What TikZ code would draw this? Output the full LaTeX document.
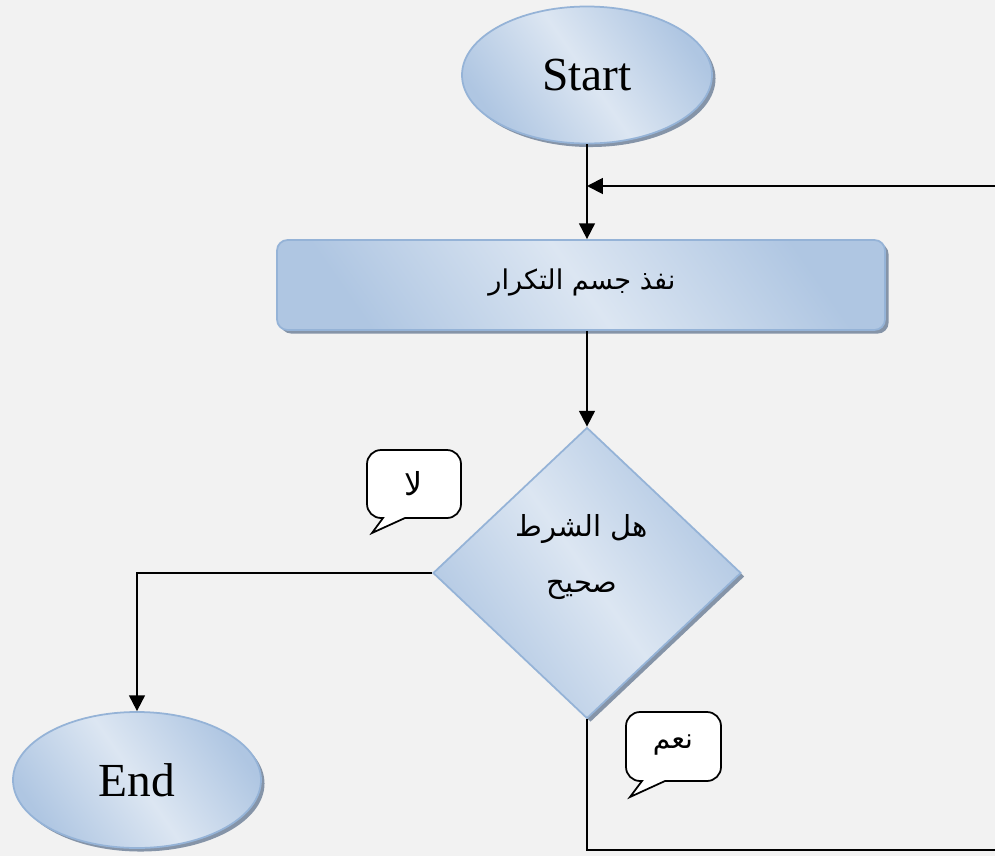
\documentclass[tikz,border=0pt]{standalone}
\usepackage{fontspec}
\usepackage{tikz}
\usetikzlibrary{arrows.meta,shapes.geometric,shadows,calc}
\TeXXeTstate=1
\newfontfamily\arabicfont[Script=Arabic]{DejaVu Sans}
\newfontfamily\latinfont{Liberation Serif}
\definecolor{pagegrey}{HTML}{F2F2F2}
\definecolor{boxedge}{HTML}{95B3D7}
\definecolor{boxlight}{HTML}{DCE6F2}
\definecolor{boxdark}{HTML}{AFC6E2}
\definecolor{shadowgrey}{HTML}{8594A8}

\begin{document}
\begin{tikzpicture}[x=0.02cm, y=-0.02cm,
		blueshape/.style={draw=boxedge, line width=1pt, left color=boxdark, right color=boxdark, middle color=boxlight, shading angle=125,
			drop shadow={shadow xshift=2pt, shadow yshift=-2pt, fill=shadowgrey, opacity=1}},
		terminal/.style={blueshape, ellipse, inner sep=0pt, font=\latinfont\fontsize{27}{30}\selectfont},
		process/.style={blueshape, rectangle, rounded corners=6pt, inner sep=0pt},
		decision/.style={blueshape, diamond, inner sep=0pt},
		flow/.style={line width=1.1pt, -{Triangle[length=9pt, width=9pt]}},
		bubble/.style={draw=black, line width=1pt, fill=white}]
			%%%%% START %%%%%
			
			\useasboundingbox[fill=pagegrey] (0, 0) rectangle (995, 856);
			
			\node[terminal, minimum width=250*0.02cm, minimum height=137*0.02cm] (start) at (587, 75) {Start};
			\node[process, minimum width=608*0.02cm, minimum height=90*0.02cm] (body) at (581, 285) {};
			\node[font=\arabicfont\fontsize{15.5}{18}\selectfont] (bodytext) at (582, 282) {\beginR نفذ جسم التكرار\endR};
			
			\node[decision, minimum width=308*0.02cm, minimum height=291*0.02cm] (cond) at (587, 573) {};
			\node[font=\arabicfont\fontsize{16.5}{32}\selectfont, align=center] (condtext) at (582, 557) {\beginR هل الشرط\endR\\\beginR صحيح\endR};
			
			\node[terminal, minimum width=248*0.02cm, minimum height=136*0.02cm] (end) at (137, 780) {End};
			
			%% arrows
			\draw[flow] (start.south) -- (start.south |- body.north);
			\draw[flow] (cond.north |- body.south) -- (cond.north);
			\draw[flow] (cond.west) -| (end.north);
			
			\coordinate (loopbot) at (1010, 850);
			\coordinate (looptop) at (1010, 186);
			\draw[flow] (cond.south) |- (loopbot) -- (looptop) -- (looptop -| start.south);
			
			%% callouts
			\draw[bubble] (367, 450) [rounded corners=8pt] -- (461, 450) -- (461, 518) [sharp corners] -- (405, 518) -- (372, 533) -- (383, 518) [rounded corners=8pt] -- (367, 518) -- cycle;
			\node[font=\arabicfont\fontsize{18}{20}\selectfont] (notext) at (414, 484) {\beginR لا\endR};
			
			\draw[bubble] (626, 712) [rounded corners=8pt] -- (721, 712) -- (721, 781) [sharp corners] -- (665, 781) -- (630, 797) -- (642, 781) [rounded corners=8pt] -- (626, 781) -- cycle;
			\node[font=\arabicfont\fontsize{16}{18}\selectfont] (yestext) at (673, 745) {\beginR نعم\endR};
			
			%%%%% END %%%%%
\end{tikzpicture}
\end{document}
